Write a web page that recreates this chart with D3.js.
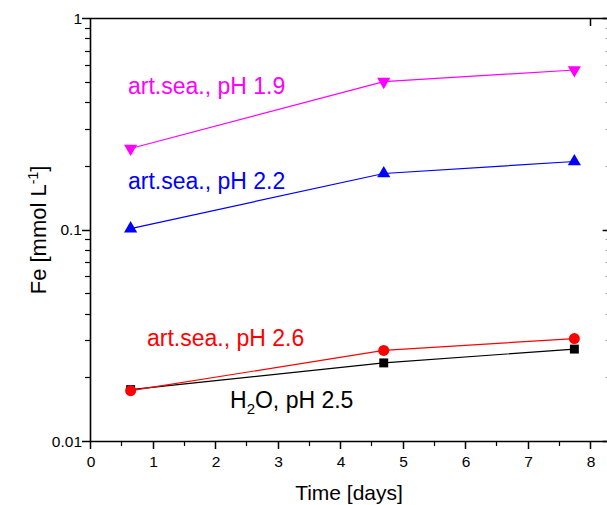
<!DOCTYPE html>
<html><head><meta charset="utf-8">
<script src="https://cdn.jsdelivr.net/npm/d3@7"></script>
<style>body{margin:0;background:#fff}svg{display:block;font-family:"Liberation Sans",Arial,sans-serif}</style>
</head><body>
<svg id="c" width="607" height="505"></svg>
<script>
const times = [0.65, 4.7, 7.75];
const seriesNames = ["H2O, pH 2.5", "art.sea., pH 2.6", "art.sea., pH 2.2", "art.sea., pH 1.9"];
const h2o_pH25 = [0.0175, 0.0234, 0.0272];
const sea_pH26 = [0.0173, 0.0268, 0.0305];
const sea_pH22 = [0.101, 0.184, 0.2097];
const sea_pH19 = [0.2415, 0.500, 0.5676];
const colors = ["#000000", "#ff0000", "#0000ff", "#ff00ff"];
const xTicks = [0,1,2,3,4,5,6,7,8];
const yTickLabels = [{v:1,t:"1"},{v:0.1,t:"0.1"},{v:0.01,t:"0.01"}];

const svg = d3.select("#c");
const x = d3.scaleLinear().domain([0, 8]).range([90, 590]);
const y = d3.scaleLog().domain([0.01, 1]).range([441, 18]);
const xR = x(8.33);

const g = svg.append("g");
// frame lines
g.append("line").attr("x1",90).attr("x2",xR).attr("y1",441.5).attr("y2",441.5).attr("stroke","#000").attr("stroke-width",1.6);
g.append("line").attr("x1",90).attr("x2",xR).attr("y1",18.5).attr("y2",18.5).attr("stroke","#000").attr("stroke-width",1.6);
g.append("line").attr("x1",90.5).attr("x2",90.5).attr("y1",18).attr("y2",442).attr("stroke","#000").attr("stroke-width",1.6);
g.append("line").attr("x1",xR).attr("x2",xR).attr("y1",18).attr("y2",442).attr("stroke","#000").attr("stroke-width",1.6);

// bottom ticks
const xMinor = d3.range(0.5, 8.01, 1);
xTicks.forEach(t => g.append("line").attr("x1",Math.round(x(t))+0.5).attr("x2",Math.round(x(t))+0.5).attr("y1",441).attr("y2",449).attr("stroke","#000").attr("stroke-width",1.5));
xMinor.forEach(t => g.append("line").attr("x1",Math.round(x(t))+0.5).attr("x2",Math.round(x(t))+0.5).attr("y1",441).attr("y2",446).attr("stroke","#000").attr("stroke-width",1.2));
// top tick at 8
g.append("line").attr("x1",x(8)+0.5).attr("x2",x(8)+0.5).attr("y1",18).attr("y2",26).attr("stroke","#000").attr("stroke-width",1.5);
xTicks.forEach(t => g.append("text").attr("x",x(t)+1).attr("y",467).attr("text-anchor","middle").attr("font-size",15.5).text(t));

// left ticks
const yMinor = [];
[0.01, 0.1].forEach(d => { for (let k=2;k<=9;k++) yMinor.push(d*k); });
yTickLabels.forEach(o => {
  const yy = Math.round(y(o.v))+0.5;
  g.append("line").attr("x1",82).attr("x2",90).attr("y1",yy).attr("y2",yy).attr("stroke","#000").attr("stroke-width",1.5);
  g.append("line").attr("x1",xR-8).attr("x2",xR).attr("y1",yy).attr("y2",yy).attr("stroke","#000").attr("stroke-width",1.5);
  g.append("text").attr("x",82).attr("y",y(o.v)+5.5).attr("text-anchor","end").attr("font-size",15.5).text(o.t);
});
yMinor.forEach(v => {
  const yy = Math.round(y(v))+0.5;
  g.append("line").attr("x1",85).attr("x2",90).attr("y1",yy).attr("y2",yy).attr("stroke","#000").attr("stroke-width",1.2);
  g.append("line").attr("x1",xR-5).attr("x2",xR).attr("y1",yy).attr("y2",yy).attr("stroke","#999").attr("stroke-width",1);
});

// axis titles
g.append("text").attr("x",349).attr("y",500).attr("text-anchor","middle").attr("font-size",21).text("Time [days]");
const yt = g.append("text").attr("transform","translate(46,230) rotate(-90)").attr("text-anchor","middle").attr("font-size",22);
yt.append("tspan").text("Fe [mmol L");
yt.append("tspan").attr("dy",-8).attr("font-size",14).text("-1");
yt.append("tspan").attr("dy",8).text("]");

// series
const allSeries = [h2o_pH25, sea_pH26, sea_pH22, sea_pH19];
const line = d3.line().x((d,i)=>x(times[i])).y(d=>y(d));
const sym = [d3.symbolSquare, d3.symbolCircle, d3.symbolTriangle, d3.symbolTriangle];
const symSize = [80, 95, 75, 75];
allSeries.forEach((s, si) => {
  g.append("path").attr("d", line(s)).attr("fill","none").attr("stroke",colors[si]).attr("stroke-width",1.2);
  s.forEach((v,i) => {
    const rot = si===3 ? " rotate(180)" : "";
    g.append("path").attr("d", d3.symbol().type(sym[si]).size(symSize[si])())
      .attr("transform",`translate(${x(times[i])},${y(v)})${rot}`).attr("fill",colors[si]);
  });
});

// annotations
g.append("text").attr("x",128).attr("y",94).attr("font-size",23).attr("fill",colors[3]).text(seriesNames[3]);
g.append("text").attr("x",128).attr("y",189).attr("font-size",23).attr("fill",colors[2]).text(seriesNames[2]);
g.append("text").attr("x",147).attr("y",346).attr("font-size",23).attr("fill",colors[1]).text(seriesNames[1]);
const h = g.append("text").attr("x",230).attr("y",408).attr("font-size",23).attr("fill",colors[0]);
h.append("tspan").text("H");
h.append("tspan").attr("dy",6).attr("font-size",15).text("2");
h.append("tspan").attr("dy",-6).text("O, pH 2.5");
</script>
</body></html>
